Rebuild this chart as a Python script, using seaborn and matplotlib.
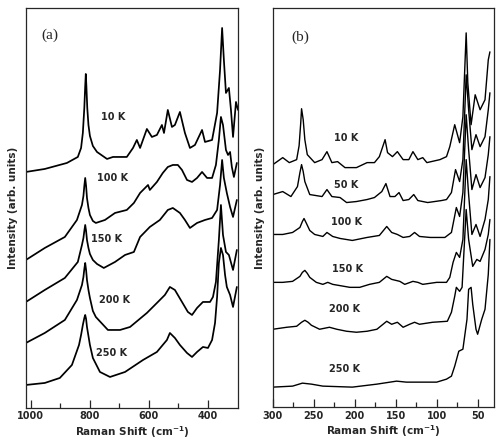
import numpy as np
import pandas as pd
import matplotlib
matplotlib.use('Agg')
import matplotlib.pyplot as plt
import seaborn as sns

# ---- panel (a): 300-1000 cm-1 (arb. intensity) ----
a_10K_x = [1017, 953, 878, 841, 830, 824, 819, 816, 814, 812, 809, 805, 800, 790, 776, 742,
           722, 675, 654, 641, 630, 607, 590, 573, 556, 549, 536, 522, 512, 495, 478, 461,
           444, 420, 410, 386, 369, 359, 352, 346, 339, 329, 322, 315, 305, 298]
a_10K_y = [236, 239, 245, 251, 260, 275, 300, 322, 334, 322, 300, 283, 272, 262, 256, 249,
           251, 251, 260, 268, 260, 279, 271, 273, 283, 275, 298, 281, 283, 296, 275, 260,
           263, 278, 266, 268, 295, 338, 380, 348, 315, 320, 298, 271, 306, 298]

a_100K_x = [1017, 953, 885, 844, 827, 822, 819, 816, 813, 810, 805, 800, 790, 780, 749, 715,
            675, 651, 630, 603, 597, 573, 553, 536, 519, 502, 488, 471, 454, 437, 420, 403,
            386, 373, 363, 356, 349, 339, 332, 325, 319, 312, 302]
a_100K_y = [148, 160, 171, 188, 203, 212, 222, 230, 222, 210, 200, 193, 187, 185, 188, 195,
            198, 205, 215, 223, 218, 226, 235, 241, 243, 243, 238, 228, 226, 230, 236, 230,
            230, 243, 268, 291, 283, 258, 253, 256, 241, 231, 245]

a_150K_x = [1017, 953, 885, 841, 827, 822, 819, 816, 813, 810, 805, 800, 790, 776, 753, 715,
            681, 651, 630, 597, 563, 536, 519, 495, 478, 461, 437, 410, 386, 369, 359, 352,
            346, 336, 325, 315, 302]
a_150K_y = [106, 118, 130, 146, 163, 170, 177, 183, 177, 168, 160, 154, 148, 144, 140, 146,
            153, 156, 171, 181, 188, 198, 200, 195, 188, 180, 185, 188, 190, 198, 223, 248,
            230, 215, 201, 191, 208]

a_200K_x = [1017, 953, 885, 844, 827, 822, 819, 816, 813, 810, 805, 800, 790, 780, 739, 698,
            664, 607, 573, 546, 529, 512, 488, 468, 454, 437, 417, 393, 383, 373, 363, 356,
            349, 339, 329, 315, 302]
a_200K_y = [65, 75, 88, 108, 123, 131, 139, 145, 138, 128, 118, 110, 97, 91, 78, 78,
            81, 95, 105, 113, 121, 118, 106, 96, 93, 100, 106, 106, 111, 126, 168, 203,
            173, 156, 153, 138, 158]

a_250K_x = [1017, 953, 902, 861, 837, 830, 824, 819, 816, 813, 810, 805, 800, 790, 766, 732,
            681, 620, 573, 539, 529, 512, 495, 471, 454, 437, 417, 400, 386, 376, 369, 363,
            356, 349, 342, 336, 325, 315, 302]
a_250K_y = [23, 25, 30, 43, 63, 73, 83, 90, 93, 89, 81, 72, 63, 50, 36, 31,
            36, 48, 56, 68, 75, 70, 63, 55, 51, 56, 61, 60, 68, 85, 111, 145,
            160, 153, 133, 121, 113, 101, 121]

# ---- panel (b): 30-300 cm-1 ----
b_10K_x = [300, 288, 280, 271, 268, 266, 265, 263, 261, 258, 249, 240, 234, 228, 221, 212,
           198, 185, 176, 170, 163, 160, 154, 148, 141, 134, 129, 123, 117, 112, 96, 88,
           84, 78, 72, 68, 64, 62, 58, 53, 47, 41, 37, 35]
b_10K_y = [243, 250, 245, 248, 262, 285, 299, 288, 268, 253, 245, 248, 256, 245, 246, 240,
           240, 245, 245, 251, 268, 255, 251, 256, 248, 248, 256, 248, 250, 245, 248, 251,
           261, 283, 265, 291, 375, 325, 283, 313, 298, 308, 348, 356]

b_50K_x = [300, 288, 278, 270, 267, 265, 263, 261, 255, 240, 234, 228, 218, 210, 198, 185,
           176, 167, 162, 157, 151, 146, 141, 134, 128, 123, 111, 94, 88, 82, 77, 72,
           68, 64, 61, 57, 52, 47, 41, 37, 35]
b_50K_y = [213, 216, 211, 221, 235, 243, 236, 226, 213, 211, 218, 211, 210, 205, 206, 208,
           210, 216, 224, 211, 211, 215, 207, 208, 213, 207, 205, 207, 208, 215, 238, 226,
           248, 333, 298, 258, 273, 261, 271, 298, 315]

b_100K_x = [300, 288, 276, 267, 264, 262, 259, 255, 249, 239, 234, 227, 218, 203, 185, 170,
            161, 155, 148, 141, 133, 127, 121, 108, 90, 82, 76, 72, 68, 64, 61, 57,
            52, 47, 41, 37, 35]
b_100K_y = [173, 173, 175, 180, 186, 189, 184, 177, 173, 171, 175, 171, 169, 167, 170, 172,
            181, 175, 173, 170, 171, 175, 171, 170, 170, 175, 200, 191, 215, 293, 258, 218,
            233, 220, 230, 253, 271]

b_150K_x = [300, 288, 276, 267, 264, 261, 258, 255, 247, 239, 233, 227, 206, 194, 182, 170,
            161, 155, 145, 139, 129, 123, 117, 100, 88, 84, 80, 76, 72, 68, 64, 61,
            57, 52, 47, 41, 37, 35]
b_150K_y = [125, 125, 126, 131, 135, 137, 134, 130, 125, 123, 125, 123, 120, 120, 123, 125,
            131, 128, 126, 123, 126, 125, 123, 125, 125, 130, 145, 155, 150, 168, 248, 213,
            173, 183, 171, 188, 208, 231]

b_200K_x = [300, 283, 271, 265, 261, 257, 253, 243, 231, 222, 210, 198, 185, 173, 161, 155,
            148, 141, 133, 127, 121, 105, 87, 82, 78, 76, 72, 69, 64, 61, 56, 51,
            47, 41, 37, 35]
b_200K_y = [78, 80, 81, 85, 87, 85, 82, 78, 80, 78, 76, 75, 76, 78, 86, 83,
            85, 80, 83, 85, 83, 85, 86, 95, 111, 120, 116, 120, 198, 168, 141, 148,
            146, 158, 173, 188]

b_250K_x = [300, 276, 264, 253, 239, 203, 173, 157, 149, 137, 100, 88, 82, 78, 73, 68,
            63, 61, 58, 56, 52, 50, 45, 41, 37, 35]
b_250K_y = [20, 21, 24, 23, 21, 20, 23, 25, 26, 25, 25, 28, 31, 41, 56, 58,
            88, 118, 120, 103, 78, 73, 88, 98, 133, 168]

temps_a = ['10 K', '100 K', '150 K', '200 K', '250 K']
temps_b = ['10 K', '50 K', '100 K', '150 K', '200 K', '250 K']
spectra_a = [(a_10K_x, a_10K_y), (a_100K_x, a_100K_y), (a_150K_x, a_150K_y),
             (a_200K_x, a_200K_y), (a_250K_x, a_250K_y)]
spectra_b = [(b_10K_x, b_10K_y), (b_50K_x, b_50K_y), (b_100K_x, b_100K_y),
             (b_150K_x, b_150K_y), (b_200K_x, b_200K_y), (b_250K_x, b_250K_y)]

# label positions (data coords)
lab_a = [(722, 291), (722, 230), (742, 169), (715, 108), (725, 55)]
lab_b = [(210, 270), (211, 223), (210, 185), (209, 138), (212, 98), (212, 38)]

sns.set_style('ticks')
plt.rcParams['font.family'] = ['DejaVu Sans']

fig = plt.figure(figsize=(4.98, 4.42), dpi=100)
ax_a = fig.add_axes([0.052, 0.077, 0.426, 0.905])
ax_b = fig.add_axes([0.548, 0.079, 0.444, 0.903])


def draw(ax, spectra, temps, labels, lw):
    for (xs, ys), t, (lx, ly) in zip(spectra, temps, labels):
        df = pd.DataFrame({'shift': xs, 'intensity': ys})
        sns.lineplot(data=df, x='shift', y='intensity', ax=ax, color='black',
                     lw=lw, estimator=None)
        ax.text(lx, ly, t, fontsize=7, fontweight='bold', ha='center', va='center')
    ax.set_ylim(0, 400)
    ax.set_yticks([])
    ax.set_ylabel('Intensity (arb. units)', fontsize=7.5, fontweight='bold', labelpad=6)
    ax.set_xlabel(r'Raman Shift (cm$^{\mathbf{-1}}$)', fontsize=7.5, fontweight='bold',
                  labelpad=2)
    for s in ax.spines.values():
        s.set_visible(True)
        s.set_linewidth(0.9)
    ax.tick_params(axis='x', which='major', direction='in', length=6, width=0.9,
                   labelsize=7, pad=2.5)
    ax.tick_params(axis='x', which='minor', direction='in', length=3.5, width=0.9)


draw(ax_a, spectra_a, temps_a, lab_a, 1.25)
ax_a.set_xlim(1017, 298)
ax_a.set_xticks([1000, 800, 600, 400])
ax_a.set_xticks([900, 700, 500], minor=True)
for lbl in ax_a.get_xticklabels():
    lbl.set_fontweight('bold')
ax_a.text(936, 373, '(a)', fontsize=11, family='Liberation Serif', ha='center', va='center')

draw(ax_b, spectra_b, temps_b, lab_b, 1.0)
ax_b.set_xlim(300, 30)
ax_b.set_xticks([300, 250, 200, 150, 100, 50])
ax_b.set_xticks([275, 225, 175, 125, 75], minor=True)
for lbl in ax_b.get_xticklabels():
    lbl.set_fontweight('bold')
ax_b.text(267, 371, '(b)', fontsize=11, family='Liberation Serif', ha='center', va='center')

fig.savefig('out.png', dpi=100)
